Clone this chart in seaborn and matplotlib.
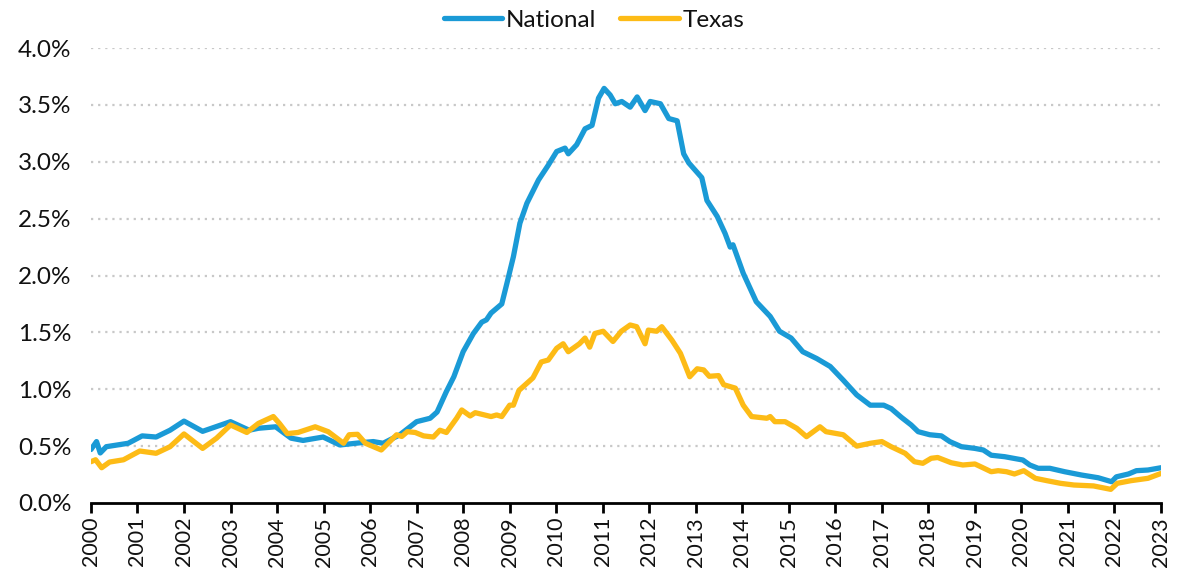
import numpy as np
import pandas as pd
import seaborn as sns
import matplotlib.pyplot as plt

# National series (year fraction, percent)
national_x = [2000.0, 2000.12, 2000.2, 2000.33, 2000.8, 2001.1, 2001.4, 2001.7, 2002.0, 2002.4,
              2003.0, 2003.4, 2003.6, 2003.97, 2004.3, 2004.56, 2004.99, 2005.35, 2005.8, 2006.07,
              2006.28, 2006.64, 2007.0, 2007.29, 2007.44, 2007.64, 2007.8, 2008.0, 2008.22, 2008.4,
              2008.5, 2008.6, 2008.83, 2008.94,
              2009.08, 2009.22, 2009.37, 2009.62, 2009.83, 2010.01, 2010.19, 2010.26, 2010.44, 2010.62,
              2010.77, 2010.91, 2011.03, 2011.16, 2011.27, 2011.41, 2011.59, 2011.74, 2011.91, 2012.02,
              2012.24, 2012.42, 2012.6, 2012.74, 2012.85, 2013.13, 2013.24, 2013.46, 2013.63, 2013.74,
              2013.8, 2014.02, 2014.3, 2014.6, 2014.8, 2015.05, 2015.3, 2015.6, 2015.89, 2016.17,
              2016.46, 2016.75, 2017.04, 2017.2, 2017.42, 2017.63, 2017.78, 2018.03, 2018.28, 2018.46,
              2018.71, 2019.0, 2019.18, 2019.35, 2019.64, 2020.03, 2020.18, 2020.36, 2020.61, 2020.93,
              2021.29, 2021.65, 2021.94, 2022.04, 2022.3, 2022.47, 2022.72, 2023.0]
national_y = [0.47, 0.54, 0.44, 0.495, 0.525, 0.59, 0.58, 0.64, 0.72, 0.63,
              0.715, 0.64, 0.657, 0.67, 0.57, 0.55, 0.58, 0.51, 0.53, 0.54,
              0.525, 0.60, 0.715, 0.745, 0.80, 0.98, 1.11, 1.33, 1.49, 1.59,
              1.61, 1.67, 1.75, 1.93,
              2.165, 2.46, 2.635, 2.84, 2.97, 3.09, 3.12, 3.07, 3.15, 3.29,
              3.32, 3.56, 3.645, 3.587, 3.51, 3.53, 3.48, 3.57, 3.45, 3.53,
              3.51, 3.38, 3.36, 3.07, 2.99, 2.86, 2.66, 2.52, 2.37, 2.25,
              2.27, 2.02, 1.77, 1.64, 1.51, 1.45, 1.33, 1.27, 1.20, 1.08,
              0.95, 0.86, 0.86, 0.83, 0.753, 0.686, 0.627, 0.60, 0.59, 0.54,
              0.495, 0.48, 0.466, 0.42, 0.407, 0.378, 0.334, 0.305, 0.305, 0.275,
              0.246, 0.222, 0.187, 0.23, 0.255, 0.284, 0.29, 0.31]

# Texas series
texas_x = [2000.0, 2000.1, 2000.23, 2000.4, 2000.7, 2001.05, 2001.4, 2001.7, 2002.0, 2002.4,
           2002.7, 2003.0, 2003.35, 2003.6, 2003.92, 2004.05, 2004.22, 2004.45, 2004.82, 2005.1,
           2005.43, 2005.55, 2005.73, 2005.9, 2006.24, 2006.57, 2006.68, 2006.8, 2006.97, 2007.15,
           2007.36, 2007.5, 2007.64, 2007.86, 2007.97, 2008.15, 2008.26, 2008.6, 2008.72, 2008.83,
           2009.0, 2009.08, 2009.2, 2009.5, 2009.68, 2009.83, 2010.01, 2010.15, 2010.26, 2010.5,
           2010.62, 2010.72, 2010.83, 2011.01, 2011.22, 2011.4, 2011.59, 2011.73, 2011.91, 2011.98,
           2012.16, 2012.27, 2012.49, 2012.67, 2012.87, 2013.03, 2013.17, 2013.29, 2013.49, 2013.6,
           2013.85, 2014.02, 2014.2, 2014.53, 2014.6, 2014.7, 2014.92, 2015.17, 2015.38, 2015.67,
           2015.8, 2016.17, 2016.46, 2016.75, 2017.0, 2017.2, 2017.5, 2017.7, 2017.88, 2018.06,
           2018.2, 2018.49, 2018.74, 2019.0, 2019.12, 2019.35, 2019.5, 2019.68, 2019.85, 2020.05,
           2020.3, 2020.55, 2020.84, 2021.13, 2021.55, 2021.92, 2022.06, 2022.35, 2022.72, 2023.0]
texas_y = [0.363, 0.38, 0.31, 0.36, 0.38, 0.457, 0.437, 0.495, 0.607, 0.48,
           0.57, 0.686, 0.62, 0.70, 0.76, 0.70, 0.61, 0.62, 0.67, 0.627,
           0.525, 0.60, 0.604, 0.525, 0.466, 0.60, 0.585, 0.627, 0.62, 0.59,
           0.58, 0.64, 0.62, 0.745, 0.818, 0.765, 0.794, 0.76, 0.774, 0.76,
           0.86, 0.86, 0.99, 1.10, 1.24, 1.257, 1.36, 1.40, 1.33, 1.40,
           1.45, 1.37, 1.49, 1.51, 1.42, 1.51, 1.565, 1.55, 1.40, 1.52,
           1.51, 1.55, 1.43, 1.316, 1.11, 1.18, 1.17, 1.114, 1.12, 1.04,
           1.01, 0.86, 0.76, 0.745, 0.76, 0.715, 0.715, 0.657, 0.583, 0.67,
           0.627, 0.60, 0.50, 0.525, 0.54, 0.495, 0.437, 0.363, 0.349, 0.393,
           0.40, 0.354, 0.334, 0.343, 0.32, 0.275, 0.284, 0.275, 0.255, 0.284,
           0.217, 0.196, 0.173, 0.158, 0.15, 0.12, 0.173, 0.196, 0.217, 0.26]

years = list(range(2000, 2024))
y_ticks = [0, 0.5, 1.0, 1.5, 2.0, 2.5, 3.0, 3.5, 4.0]

df = pd.concat([
    pd.DataFrame({'year': national_x, 'rate': national_y, 'series': 'National'}),
    pd.DataFrame({'year': texas_x, 'rate': texas_y, 'series': 'Texas'}),
])

sns.set_theme(style='white')
plt.rcParams['font.family'] = ['Lato', 'DejaVu Sans']

fig = plt.figure(figsize=(11.92, 5.69), dpi=100)
ax = fig.add_axes([0.0763, 0.116, 0.8977, 0.7996])

sns.lineplot(data=df, x='year', y='rate', hue='series', estimator=None, sort=False,
             palette={'National': '#1A9AD6', 'Texas': '#FDBB16'}, linewidth=3.8, ax=ax)

ax.set_xlim(2000, 2023)
ax.set_ylim(0, 4.0)
ax.set_xticks(years)
ax.set_xticklabels([str(y) for y in years], rotation=90, fontsize=15.5, color='#111111')
ax.set_yticks(y_ticks)
ax.set_yticklabels([f'{v:.1f}%' for v in y_ticks], fontsize=17.5, color='#111111')
ax.set_xlabel('')
ax.set_ylabel('')

for v in y_ticks[1:]:
    ax.axhline(v, color='#c8c8c8', linestyle=(0, (1, 2.2)), linewidth=1.6, zorder=0)

for s in ['top', 'right', 'left']:
    ax.spines[s].set_visible(False)
ax.spines['bottom'].set_color('black')
ax.spines['bottom'].set_linewidth(2)
ax.tick_params(axis='x', direction='out', length=7, width=2, color='black', pad=3, bottom=True)
ax.tick_params(axis='y', length=0, pad=14)

leg = ax.legend(loc='lower center', bbox_to_anchor=(0.47, 0.99), ncol=2, frameon=False,
                fontsize=17.5, handlelength=2.4, columnspacing=1.0, handletextpad=0.15)
for t in leg.get_texts():
    t.set_color('#111111')

plt.savefig('out.png', dpi=100)
